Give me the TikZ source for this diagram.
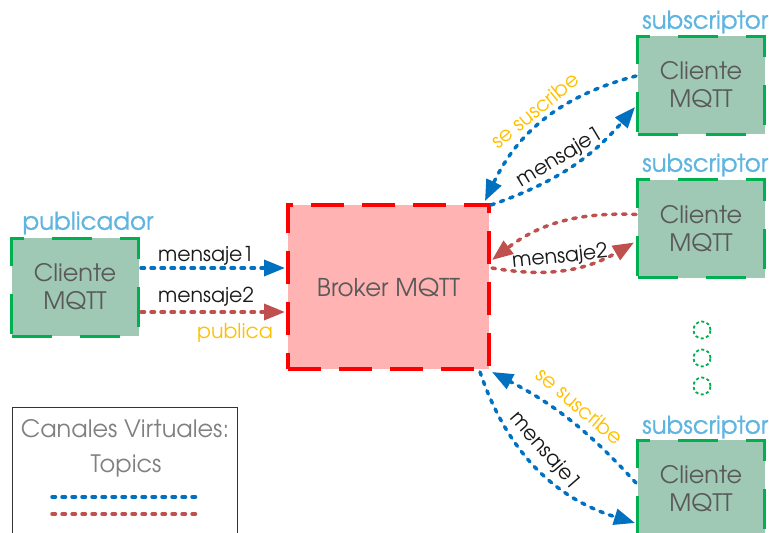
\documentclass[tikz,border=0pt]{standalone}
\usepackage{fontspec}
\setmainfont{TeX Gyre Adventor}
\newfontfamily\rolefont[FakeBold=0.8]{TeX Gyre Adventor}
\usetikzlibrary{arrows.meta,calc}

\definecolor{boxfill}{HTML}{9FC9B5}
\definecolor{boxline}{HTML}{00B050}
\definecolor{brokerfill}{HTML}{FFB3B3}
\definecolor{brokerline}{HTML}{FF0000}
\definecolor{topicblue}{HTML}{0070C0}
\definecolor{topicred}{HTML}{C0504D}
\definecolor{actorange}{HTML}{FFC000}
\definecolor{rolelabel}{HTML}{5FB5E0}
\definecolor{bodytext}{HTML}{595959}

\tikzset{
  client/.style={draw=boxline, fill=boxfill, line width=3pt,
    dash pattern=on 40pt off 28pt, minimum width=127, minimum height=98,
    align=center, text=bodytext, font=\fontsize{24}{28}\selectfont, inner sep=0pt},
  brokerbox/.style={draw=brokerline, fill=brokerfill, line width=4pt,
    dash pattern=on 33pt off 18pt, minimum width=201, minimum height=164,
    text=bodytext, font=\fontsize{24.5}{28}\selectfont, inner sep=0pt},
  role/.style={text=rolelabel, font=\rolefont\fontsize{24.5}{28}\selectfont, inner sep=0pt},
  msglabel/.style={text=black!90, font=\fontsize{20.5}{24}\selectfont, inner sep=0pt},
  actlabel/.style={text=actorange, font=\fontsize{20.5}{24}\selectfont, inner sep=0pt},
  topicline/.style={line width=3.5pt, line cap=round, dash pattern=on 3.5pt off 6.5pt},
  bluelink/.style={topicline, draw=topicblue, -{Triangle[length=21pt,width=16pt,fill=topicblue]}},
  redlink/.style={topicline, draw=topicred, -{Triangle[length=21pt,width=16pt,fill=topicred]}},
  moredots/.style={circle, draw=boxline, line width=1.8pt, dash pattern=on 3pt off 2.5pt,
    minimum size=17, inner sep=0pt},
  legendtext/.style={text=black!50, font=\fontsize{24}{28}\selectfont, inner sep=0pt},
}

\begin{document}
\begin{tikzpicture}[x=1pt, y=-1pt]
\useasboundingbox (0,0) rectangle (769,533);

% clients and broker
\node[client] (pub) at (75,287) {Cliente\\MQTT};
\node[brokerbox] (broker) at (388.5,287) {Broker MQTT};
\node[client] (s1) at (701,85) {Cliente\\MQTT};
\node[client] (s2) at (701,228.5) {Cliente\\MQTT};
\node[client] (s3) at (701,489) {Cliente\\MQTT};

% role captions
\node[role] (rpub) at (88,223) {publicador};
\node[role, anchor=west] (rs1) at (642,22) {subscriptor};
\node[role, anchor=west] (rs2) at (642,165) {subscriptor};
\node[role, anchor=west] (rs3) at (642,427) {subscriptor};

% further subscribers
\node[moredots] (d1) at (702,330) {};
\node[moredots] (d2) at (702,358) {};
\node[moredots] (d3) at (702,386) {};

% publisher to broker
\draw[bluelink] ($(pub.east)+(1,-19)$) -- ($(broker.west)+(-1,-19)$);
\draw[redlink] ($(pub.east)+(1,25)$) -- ($(broker.west)+(-1,25)$);
\node[msglabel] (lp1) at (206,256) {mensaje1};
\node[msglabel] (lp2) at (206,297) {mensaje2};
\node[actlabel] (lpub) at (235,333) {publica};

% first subscriber
\draw[bluelink] ($(s1.west)+(0,-9)$) to[bend right=25] ($(broker.north east)+(-6,-2)$);
\draw[bluelink] ($(broker.north east)+(0,2)$) to[bend right=15] ($(s1.west)+(-1,22)$);
\node[actlabel, rotate=39] (ls1) at (535,110) {se suscribe};
\node[msglabel, rotate=31] (lm1) at (560,158) {mensaje1};

% second subscriber
\draw[redlink] ($(s2.west)+(0,-14)$) to[bend right=20] ($(broker.east)+(1,-27)$);
\draw[redlink] ($(broker.east)+(1,-19)$) to[bend right=20] ($(s2.west)+(-2,14)$);
\node[msglabel, rotate=6] (lm2) at (560,257) {mensaje2};

% third subscriber
\draw[bluelink] ($(s3.west)+(0,-6)$) to[bend right=10] ($(broker.south east)+(1,1)$);
\draw[bluelink] ($(broker.south east)+(-11,1)$) to[bend right=27] ($(s3.west)+(-1,34)$);
\node[actlabel, rotate=-40] (ls3) at (580,406) {se suscribe};
\node[msglabel, rotate=-49] (lm3) at (545,451) {mensaje1};

% legend
\node[draw=black!80, line width=1.2pt, minimum width=225, minimum height=140,
  anchor=north west, inner sep=0pt] (legend) at (12,407) {};
\node[legendtext] (lt1) at (125,429) {Canales Virtuales:};
\node[legendtext] (lt2) at (126,466) {Topics};
\coordinate (lb1) at (52,497);
\coordinate (lb2) at (197,497);
\coordinate (lr1) at (52,514);
\coordinate (lr2) at (197,514);
\draw[topicline, draw=topicblue] (lb1) -- (lb2);
\draw[topicline, draw=topicred] (lr1) -- (lr2);
\end{tikzpicture}
\end{document}
